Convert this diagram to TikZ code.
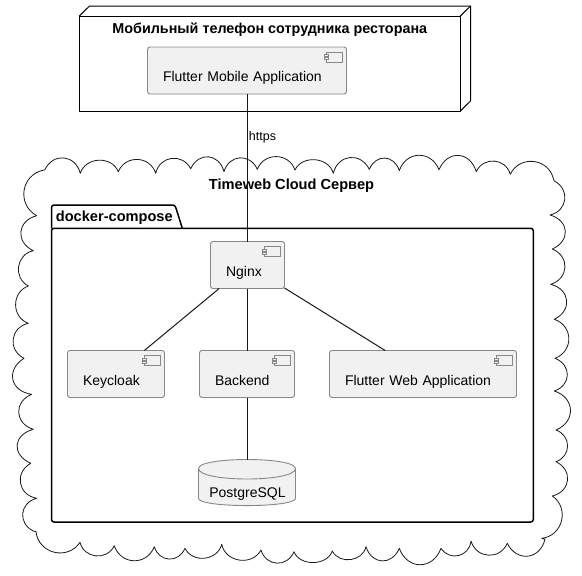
\documentclass[tikz,border=0pt]{standalone}
\usepackage{fontspec}
\setmainfont{Liberation Sans}
\usetikzlibrary{calc}
\definecolor{boxfill}{HTML}{F1F1F1}
\definecolor{boxline}{HTML}{888888}
\definecolor{inkline}{HTML}{181818}
\tikzset{
  bump/.style={to path={.. controls ($(\tikztostart)!1.06*#1pt!70:(\tikztotarget)$) and ($(\tikztotarget)!1.06*#1pt!-70:(\tikztostart)$) .. (\tikztotarget) \tikztonodes}},
  comp/.style={draw=boxline,fill=boxfill,line width=0.9pt,rounded corners=2.5pt,anchor=north west,outer sep=0pt,
    minimum width=#1pt,text width=#1pt-31pt,align=left,inner xsep=15.5pt,inner ysep=0pt,
    text height=34.5pt,text depth=12.5pt,font=\fontsize{14}{16}\selectfont,text=black,
    path picture={
      \draw[boxline,line width=0.9pt,rounded corners=0pt,fill=boxfill]
        ([shift={(-20.5pt,-5pt)}]path picture bounding box.north east) rectangle ([shift={(-4.5pt,-15pt)}]path picture bounding box.north east);
      \draw[boxline,line width=0.9pt,rounded corners=0pt,fill=boxfill]
        ([shift={(-22.5pt,-7.5pt)}]path picture bounding box.north east) rectangle ([shift={(-18pt,-9.5pt)}]path picture bounding box.north east);
      \draw[boxline,line width=0.9pt,rounded corners=0pt,fill=boxfill]
        ([shift={(-22.5pt,-10.5pt)}]path picture bounding box.north east) rectangle ([shift={(-18pt,-12.5pt)}]path picture bounding box.north east);
    }},
  title/.style={font=\bfseries\fontsize{14.6}{16}\selectfont,text=black,inner sep=0pt},
  frameline/.style={draw=black,line width=1pt,line join=round},
  pkgline/.style={draw=black,line width=1.5pt,rounded corners=2.5pt},
  cloudline/.style={draw=inkline,line width=0.8pt,line join=round},
  link/.style={draw=inkline,line width=1pt},
  dbshape/.style={draw=boxline,fill=boxfill,line width=0.9pt},
}
\begin{document}
\begin{tikzpicture}[x=1pt,y=-1pt]
\useasboundingbox (0,0) rectangle (582,576);
% cloud
\draw[cloudline] (44.7,170)
  to[bump=18.5] (80.3,173.3) to[bump=16.5] (118.3,171.7) to[bump=17.5] (155.7,173.3)
  to[bump=17] (190.7,168.7) to[bump=18] (224,171.7) to[bump=17] (257.3,169.3)
  to[bump=17.5] (295,170) to[bump=16] (333.3,173.3) to[bump=18.5] (369.3,169.3)
  to[bump=16] (399.3,170.7) to[bump=20] (439,169.7) to[bump=20.5] (476.3,171.7)
  to[bump=16] (510.3,174.3) to[bump=20] (553.3,178.3) -- (554.3,181)
  to[bump=17] (550,215) to[bump=19] (552.3,249) to[bump=18] (550.7,284.3)
  to[bump=19] (554.3,319.3) to[bump=19] (555,358.3) to[bump=17] (554.3,391)
  to[bump=20.5] (556,430) to[bump=15.5] (556,461.7) to[bump=18] (552.3,496)
  to[bump=20] (541.7,538.3) -- (545,539.3)
  to[bump=20] (507.3,543.3) to[bump=17.5] (471,541) to[bump=15] (441,548.3)
  to[bump=22] (399.3,548.3) to[bump=18] (366,546.7) to[bump=14.5] (332.3,551)
  to[bump=15] (294,551.7) to[bump=16.5] (261,550) to[bump=17.5] (221.7,544.3)
  to[bump=16] (185,548.3) to[bump=15.5] (154.3,546.7) to[bump=19.5] (114.3,545.7)
  to[bump=16] (80,542.3) to[bump=21] (36,531.7) -- (33.3,531)
  to[bump=16.5] (36.7,498.3) to[bump=18] (30.7,463.3) to[bump=20] (33.3,429.3)
  to[bump=18.5] (31.7,394.3) to[bump=20.5] (24,358.3) to[bump=17.5] (28.3,323.3)
  to[bump=17] (28.3,286) to[bump=16.5] (33.3,250.7) to[bump=19] (36.7,215.7)
  to[bump=22] (44,170) -- cycle;
\node[title,anchor=base] (cloudtitle) at (291.5,189) {Timeweb Cloud Сервер};
% package
\draw[pkgline] (51.5,228.3) -- (51.5,205) -- (175,205) -- (182.3,228.3);
\draw[pkgline] (51.5,228.3) rectangle (533.3,522);
\node[title,anchor=base west] (pkgtitle) at (55.7,221.7) {docker-compose};
% phone node
\draw[frameline] (79.3,16) -- (89.5,6) -- (470.5,6) -- (470.5,101) -- (460.3,111);
\draw[frameline] (460.3,16) -- (470.5,6);
\node[frameline,anchor=north west,outer sep=0pt,minimum width=381pt,inner xsep=0pt,inner ysep=0pt,
      text height=17.5pt,text depth=77.5pt,font=\bfseries\fontsize{14.35}{16}\selectfont]
      (phone) at (79.3,16) {Мобильный телефон сотрудника ресторана};
% components
\node[comp=199] (mobile) at (147.5,47) {Flutter Mobile Application};
\node[comp=74] (nginx) at (210.5,241.5) {Nginx};
\node[comp=97] (keycloak) at (67.5,350.5) {Keycloak};
\node[comp=95] (backend) at (199.5,350.5) {Backend};
\node[comp=187] (web) at (329.5,350.5) {Flutter Web Application};
% database
\draw[dbshape] (198.5,468.5) .. controls (198.5,456.5) and (295.5,456.5) .. (295.5,468.5)
  -- (295.5,498.3) .. controls (295.5,508) and (198.5,508) .. (198.5,498.3) -- cycle;
\draw[dbshape,fill=none] (198.5,468.5) .. controls (198.5,482.5) and (295.5,482.5) .. (295.5,468.5);
\node[anchor=north,minimum width=97pt,inner sep=0pt,outer sep=0pt,text height=38pt,text depth=8pt,
      font=\fontsize{14}{16}\selectfont] (pg) at (247.5,459.5) {PostgreSQL};
% connectors
\draw[link] (nginx.north |- mobile.south) -- (nginx.north);
\draw[link] (nginx) -- (keycloak);
\draw[link] (nginx.south) -- (nginx.south |- backend.north);
\draw[link] (nginx) -- (web);
\draw[link] (pg.north |- backend.south) -- (pg.north);
\node[anchor=base west,inner sep=0pt,font=\fontsize{12.5}{14}\selectfont] (https) at (248.7,140.7) {https};
\end{tikzpicture}
\end{document}
